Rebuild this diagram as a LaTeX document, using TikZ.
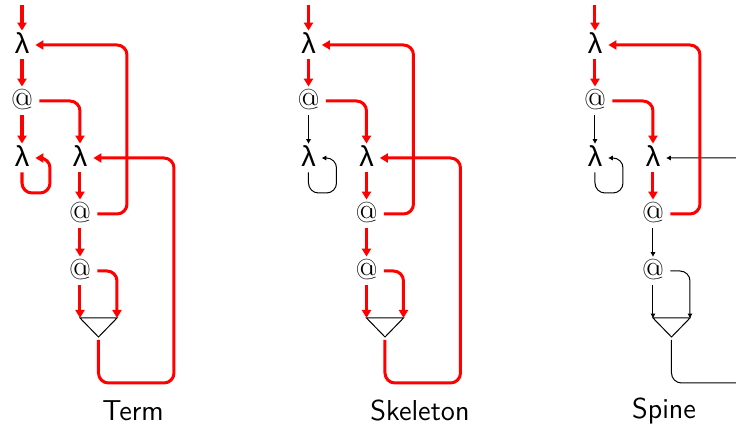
\documentclass[tikz,border=0pt]{standalone}
\usepackage{fontspec}
\newfontfamily\lamfont{Liberation Sans}
\usetikzlibrary{arrows.meta}

\begin{document}
\begin{tikzpicture}[x=0.5pt,y=0.5pt,yscale=-1,
  lam/.style={font=\Large\lamfont,inner sep=1.5pt,minimum width=13pt,text height=10pt,text depth=1pt},
  app/.style={font=\Large,inner sep=1.5pt,minimum width=17pt,text height=10pt,text depth=1pt},
  hot/.style={draw=red,line width=1.5pt,rounded corners=5pt,-{Triangle[length=4pt,width=4.5pt]}},
  cold/.style={draw=black,line width=0.5pt,rounded corners=5pt,-{Triangle[length=2.2pt,width=2.2pt]}},
  tri/.style={draw=black,line width=0.5pt},
  caption/.style={font=\Large\sffamily}]
\clip (0,0) rectangle (736,427);

%Panel: Term
\coordinate (topT) at (22,5);
\node[lam] (lamT1) at (22,45) {λ};
\node[app] (appT1) at (22,101) {@};
\node[lam] (lamT2) at (22,158) {λ};
\node[lam] (lamT3) at (80,158) {λ};
\node[app] (appT2) at (80,214) {@};
\node[app] (appT3) at (80,271) {@};
\coordinate (triTl) at (80,318);
\coordinate (triTr) at (117,318);
\coordinate (triTb) at (98.5,337);
\coordinate (selfT) at (50,193);
\coordinate (colT1) at (127,0);
\coordinate (colT2) at (174,383);
\draw[tri] (triTl) -- (triTr) -- (triTb) -- cycle;
\draw[hot] (topT) -- (lamT1.north);
\draw[hot] (lamT1.south) -- (appT1.north);
\draw[hot] (appT1.south) -- (lamT2.north);
\draw[hot] (appT1.east) -| (lamT3.north);
\draw[hot] (lamT2.south) |- (selfT) |- (lamT2.east);
\draw[hot] (lamT3.south) -- (appT2.north);
\draw[hot] (appT2.east) -- (appT2.east -| colT1) |- (lamT1.east);
\draw[hot] (appT2.south) -- (appT3.north);
\draw[hot] (appT3.south) -- (triTl);
\draw[hot] (appT3.east) -| (triTr);
\draw[hot,shorten <=1.5pt] (triTb) |- (colT2) |- (lamT3.east);
% Text Node
\node[caption] (capT) at (133,411) {Term};

%Panel: Skeleton
\begin{scope}[shift={(286.5,0)}]
\coordinate (topS) at (22,5);
\node[lam] (lamS1) at (22,45) {λ};
\node[app] (appS1) at (22,101) {@};
\node[lam] (lamS2) at (22,158) {λ};
\node[lam] (lamS3) at (80,158) {λ};
\node[app] (appS2) at (80,214) {@};
\node[app] (appS3) at (80,271) {@};
\coordinate (triSl) at (80,318);
\coordinate (triSr) at (117,318);
\coordinate (triSb) at (98.5,337);
\coordinate (selfS) at (50,193);
\coordinate (colS1) at (127,0);
\coordinate (colS2) at (174,383);
\draw[tri] (triSl) -- (triSr) -- (triSb) -- cycle;
\draw[hot] (topS) -- (lamS1.north);
\draw[hot] (lamS1.south) -- (appS1.north);
\draw[cold] (appS1.south) -- (lamS2.north);
\draw[hot] (appS1.east) -| (lamS3.north);
\draw[cold] (lamS2.south) |- (selfS) |- (lamS2.east);
\draw[hot] (lamS3.south) -- (appS2.north);
\draw[hot] (appS2.east) -- (appS2.east -| colS1) |- (lamS1.east);
\draw[hot] (appS2.south) -- (appS3.north);
\draw[hot] (appS3.south) -- (triSl);
\draw[hot] (appS3.east) -| (triSr);
\draw[hot,shorten <=1.5pt] (triSb) |- (colS2) |- (lamS3.east);
% Text Node
\node[caption] (capS) at (133.5,411) {Skeleton};
\end{scope}

%Panel: Spine
\begin{scope}[shift={(573,0)}]
\coordinate (topP) at (22,5);
\node[lam] (lamP1) at (22,45) {λ};
\node[app] (appP1) at (22,101) {@};
\node[lam] (lamP2) at (22,158) {λ};
\node[lam] (lamP3) at (80,158) {λ};
\node[app] (appP2) at (80,214) {@};
\node[app] (appP3) at (80,271) {@};
\coordinate (triPl) at (80,318);
\coordinate (triPr) at (117,318);
\coordinate (triPb) at (98.5,337);
\coordinate (selfP) at (50,193);
\coordinate (colP1) at (127,0);
\coordinate (colP2) at (174,383);
\draw[tri] (triPl) -- (triPr) -- (triPb) -- cycle;
\draw[hot] (topP) -- (lamP1.north);
\draw[hot] (lamP1.south) -- (appP1.north);
\draw[cold] (appP1.south) -- (lamP2.north);
\draw[hot] (appP1.east) -| (lamP3.north);
\draw[cold] (lamP2.south) |- (selfP) |- (lamP2.east);
\draw[hot] (lamP3.south) -- (appP2.north);
\draw[cold,shorten <=1.5pt] (triPb) |- (colP2) |- (lamP3.east);
\draw[hot] (appP2.east) -- (appP2.east -| colP1) |- (lamP1.east);
\draw[cold] (appP2.south) -- (appP3.north);
\draw[cold] (appP3.south) -- (triPl);
\draw[cold] (appP3.east) -| (triPr);
% Text Node
\node[caption] (capP) at (91,411) {Spine};
\end{scope}

\end{tikzpicture}
\end{document}
